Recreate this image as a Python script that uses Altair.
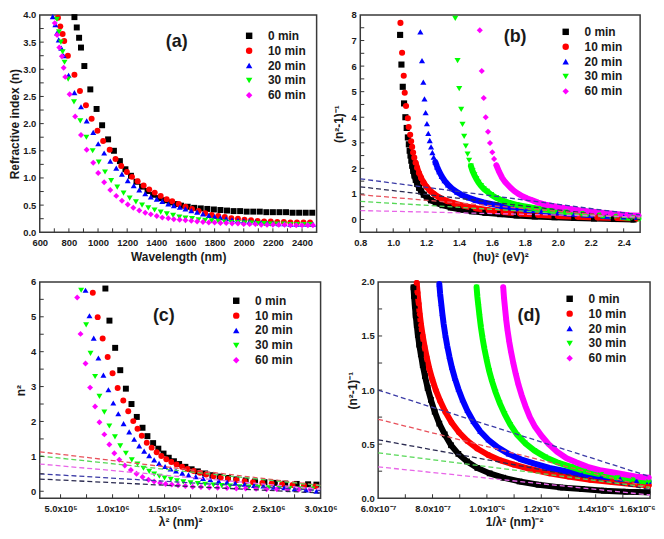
import altair as alt
import pandas as pd

SERIES = ["0 min", "10 min", "20 min", "30 min", "60 min"]
COLORS = ["#000000", "#ff0000", "#0000ff", "#00ff00", "#ff00ff"]
SHAPES = ["square", "circle", "triangle-up", "triangle-down", "diamond"]
FIT_NAMES = [s + " fit" for s in SERIES]
FIT_COLORS = ["#2a2a50", "#e8505a", "#3a3aa6", "#55d855", "#e865e8"]
PANEL_LABELS = ["(a)", "(b)", "(c)", "(d)"]

# ---------------- panel (a): n vs wavelength (nm) ----------------
A0_X = [838, 854, 870, 883, 906, 947, 990, 1028, 1069, 1109, 1150, 1188, 1226, 1264, 1302, 1340, 1378, 1416, 1454, 1492, 1530, 1570, 1615, 1660, 1705, 1750, 1795, 1840, 1885, 1930, 1975, 2020, 2065, 2110, 2155, 2200, 2245, 2290, 2335, 2380, 2425, 2470]
A0_Y = [3.96, 3.77, 3.58, 3.40, 3.06, 2.63, 2.27, 1.97, 1.71, 1.50, 1.31, 1.16, 1.04, 0.93, 0.84, 0.76, 0.69, 0.63, 0.59, 0.55, 0.52, 0.49, 0.47, 0.45, 0.44, 0.43, 0.42, 0.41, 0.40, 0.39, 0.39, 0.38, 0.38, 0.38, 0.37, 0.37, 0.37, 0.37, 0.36, 0.36, 0.36, 0.36]
A10_X = [725, 741, 757, 768, 793, 838, 876, 917, 956, 996, 1035, 1080, 1120, 1159, 1198, 1233, 1272, 1313, 1351, 1389, 1430, 1471, 1509, 1554, 1600, 1645, 1690, 1735, 1780, 1825, 1870, 1915, 1960, 2005, 2050, 2095, 2140, 2185, 2230, 2275, 2320, 2365, 2410, 2455]
A10_Y = [3.95, 3.79, 3.65, 3.52, 3.25, 2.90, 2.60, 2.34, 2.09, 1.87, 1.68, 1.52, 1.35, 1.22, 1.11, 1.02, 0.94, 0.86, 0.79, 0.73, 0.67, 0.61, 0.57, 0.52, 0.47, 0.43, 0.39, 0.35, 0.32, 0.30, 0.28, 0.26, 0.25, 0.23, 0.22, 0.21, 0.20, 0.20, 0.19, 0.19, 0.18, 0.18, 0.18, 0.18]
A20_X = [689, 707, 719, 730, 748, 764, 798, 838, 883, 922, 967, 1001, 1042, 1084, 1125, 1164, 1204, 1245, 1283, 1324, 1362, 1403, 1441, 1482, 1520, 1561, 1600, 1640, 1680, 1720, 1760, 1800, 1840, 1880, 1920, 1960, 2000, 2040, 2080, 2120, 2160, 2200, 2240, 2280, 2320, 2360, 2400, 2440, 2475]
A20_Y = [3.97, 3.82, 3.67, 3.54, 3.39, 3.25, 2.89, 2.57, 2.31, 2.05, 1.84, 1.63, 1.46, 1.31, 1.18, 1.07, 0.95, 0.86, 0.78, 0.71, 0.65, 0.61, 0.57, 0.52, 0.49, 0.46, 0.43, 0.40, 0.37, 0.34, 0.31, 0.29, 0.27, 0.25, 0.23, 0.22, 0.21, 0.20, 0.19, 0.18, 0.17, 0.17, 0.16, 0.16, 0.15, 0.15, 0.15, 0.15, 0.15]
A30_X = [718, 732, 745, 757, 770, 795, 835, 878, 920, 963, 1005, 1048, 1090, 1132, 1175, 1217, 1260, 1302, 1345, 1388, 1430, 1472, 1515, 1558, 1600, 1645, 1690, 1735, 1780, 1825, 1870, 1915, 1960, 2005, 2050, 2095, 2140, 2185, 2230, 2275, 2320, 2365, 2410, 2455]
A30_Y = [3.92, 3.69, 3.50, 3.32, 3.13, 2.82, 2.40, 2.05, 1.75, 1.50, 1.29, 1.11, 0.95, 0.83, 0.72, 0.63, 0.56, 0.50, 0.45, 0.41, 0.37, 0.34, 0.31, 0.28, 0.26, 0.25, 0.23, 0.22, 0.21, 0.20, 0.19, 0.18, 0.18, 0.17, 0.17, 0.16, 0.16, 0.15, 0.15, 0.15, 0.14, 0.14, 0.14, 0.14]
A60_X = [703, 719, 734, 752, 764, 775, 805, 843, 883, 922, 967, 1001, 1042, 1084, 1125, 1164, 1204, 1242, 1283, 1324, 1362, 1403, 1441, 1482, 1520, 1560, 1600, 1640, 1680, 1720, 1760, 1800, 1840, 1880, 1920, 1960, 2000, 2040, 2080, 2120, 2160, 2200, 2240, 2280, 2320, 2360, 2400, 2440, 2475]
A60_Y = [3.85, 3.63, 3.40, 3.24, 3.03, 2.86, 2.54, 2.13, 1.79, 1.52, 1.28, 1.09, 0.92, 0.78, 0.67, 0.58, 0.51, 0.45, 0.40, 0.36, 0.33, 0.30, 0.27, 0.26, 0.24, 0.23, 0.22, 0.21, 0.20, 0.19, 0.18, 0.18, 0.17, 0.17, 0.16, 0.16, 0.15, 0.15, 0.15, 0.14, 0.14, 0.14, 0.14, 0.14, 0.13, 0.13, 0.13, 0.13, 0.13]

# ---------------- panel (b): (n^2-1)^-1 vs (hv)^2 ----------------
B0_X = [1.042, 1.050, 1.058, 1.066, 1.074, 1.082, 1.089, 1.095, 1.100, 1.105, 1.110, 1.116, 1.122, 1.129, 1.137, 1.146, 1.157, 1.170, 1.186, 1.205, 1.23, 1.26, 1.30, 1.35, 1.41, 1.48, 1.56, 1.65, 1.75, 1.86, 1.98, 2.10, 2.22, 2.34, 2.46]
B0_Y = [7.22, 6.06, 5.19, 4.54, 4.00, 3.58, 3.21, 2.94, 2.69, 2.50, 2.30, 2.10, 1.90, 1.72, 1.55, 1.39, 1.24, 1.10, 0.97, 0.86, 0.75, 0.65, 0.56, 0.47, 0.39, 0.32, 0.26, 0.21, 0.16, 0.12, 0.09, 0.06, 0.04, 0.02, 0.00]
B10_X = [1.044, 1.054, 1.064, 1.070, 1.078, 1.089, 1.094, 1.103, 1.109, 1.115, 1.121, 1.128, 1.136, 1.145, 1.156, 1.169, 1.184, 1.202, 1.225, 1.25, 1.28, 1.32, 1.37, 1.43, 1.50, 1.58, 1.67, 1.77, 1.88, 2.00, 2.12, 2.24, 2.36, 2.48]
B10_Y = [7.69, 6.52, 5.62, 4.96, 4.44, 3.96, 3.62, 3.31, 3.06, 2.84, 2.62, 2.42, 2.22, 2.02, 1.82, 1.63, 1.45, 1.28, 1.12, 0.99, 0.86, 0.74, 0.63, 0.53, 0.44, 0.36, 0.29, 0.23, 0.18, 0.14, 0.11, 0.08, 0.06, 0.04]
B20_X = [1.165, 1.175, 1.183, 1.190, 1.197, 1.205, 1.213, 1.222, 1.230, 1.238, 1.246, 1.256, 1.267, 1.280, 1.295, 1.312, 1.333, 1.358, 1.388, 1.42, 1.46, 1.50, 1.55, 1.60, 1.66, 1.73, 1.81, 1.90, 2.00, 2.10, 2.20, 2.30, 2.40, 2.48]
B20_Y = [7.34, 6.21, 5.37, 4.72, 4.18, 3.75, 3.37, 3.09, 2.84, 2.62, 2.44, 2.25, 2.06, 1.87, 1.69, 1.52, 1.36, 1.21, 1.07, 0.95, 0.85, 0.76, 0.67, 0.60, 0.52, 0.45, 0.38, 0.32, 0.26, 0.21, 0.17, 0.13, 0.10, 0.08]
B30_X = [1.377, 1.391, 1.401, 1.413, 1.421, 1.431, 1.441, 1.452, 1.461, 1.472, 1.482, 1.493, 1.505, 1.518, 1.533, 1.550, 1.570, 1.595, 1.625, 1.660, 1.700, 1.750, 1.810, 1.880, 1.960, 2.050, 2.150, 2.250, 2.350, 2.450, 2.490]
B30_Y = [7.87, 6.21, 5.12, 4.31, 3.72, 3.25, 2.87, 2.56, 2.31, 2.09, 1.90, 1.74, 1.59, 1.45, 1.32, 1.20, 1.10, 0.97, 0.85, 0.75, 0.66, 0.57, 0.50, 0.42, 0.35, 0.29, 0.23, 0.17, 0.12, 0.06, 0.04]
B60_X = [1.526, 1.538, 1.550, 1.562, 1.576, 1.588, 1.602, 1.613, 1.627, 1.643, 1.663, 1.678, 1.694, 1.713, 1.734, 1.758, 1.785, 1.815, 1.845, 1.880, 1.925, 1.975, 2.027, 2.077, 2.127, 2.178, 2.228, 2.280, 2.329, 2.380, 2.430, 2.490]
B60_Y = [7.40, 5.81, 4.75, 4.00, 3.43, 2.99, 2.63, 2.37, 2.12, 1.87, 1.62, 1.48, 1.37, 1.24, 1.12, 1.01, 0.91, 0.82, 0.75, 0.66, 0.58, 0.52, 0.46, 0.41, 0.36, 0.32, 0.29, 0.26, 0.23, 0.20, 0.17, 0.15]
FITB_X = [0.8, 2.5]
FITB_START = [1.28, 0.97, 1.59, 0.71, 0.35]
FITB_END = [0.00, 0.05, 0.18, 0.05, 0.10]

# ---------------- panel (c): n^2 vs lambda^2 (x in 10^6 nm^2) ----------------
C0_X = [0.931, 0.970, 1.025, 1.074, 1.128, 1.182, 1.233, 1.288, 1.335, 1.390, 1.440, 1.490, 1.540, 1.590, 1.640, 1.700, 1.760, 1.820, 1.890, 1.960, 2.030, 2.110, 2.190, 2.280, 2.370, 2.460, 2.560, 2.660, 2.770, 2.880, 2.960]
C0_Y = [5.81, 4.89, 4.11, 3.47, 2.94, 2.50, 2.13, 1.82, 1.58, 1.38, 1.22, 1.08, 0.96, 0.86, 0.78, 0.70, 0.63, 0.57, 0.51, 0.46, 0.42, 0.38, 0.34, 0.31, 0.28, 0.26, 0.24, 0.22, 0.21, 0.20, 0.19]
C10_X = [0.810, 0.857, 0.905, 0.953, 1.000, 1.049, 1.103, 1.151, 1.199, 1.240, 1.281, 1.329, 1.376, 1.424, 1.469, 1.517, 1.565, 1.615, 1.668, 1.720, 1.780, 1.840, 1.900, 1.970, 2.040, 2.110, 2.190, 2.270, 2.350, 2.440, 2.530, 2.630, 2.730, 2.840, 2.950]
C10_Y = [5.69, 4.99, 4.38, 3.85, 3.38, 2.96, 2.60, 2.29, 2.01, 1.79, 1.59, 1.39, 1.25, 1.12, 1.01, 0.92, 0.84, 0.77, 0.70, 0.64, 0.58, 0.53, 0.48, 0.43, 0.39, 0.35, 0.32, 0.29, 0.26, 0.24, 0.22, 0.20, 0.18, 0.16, 0.14]
C20_X = [0.740, 0.778, 0.819, 0.864, 0.912, 0.960, 1.007, 1.055, 1.106, 1.160, 1.208, 1.256, 1.304, 1.352, 1.400, 1.447, 1.505, 1.558, 1.610, 1.670, 1.730, 1.800, 1.870, 1.940, 2.020, 2.100, 2.180, 2.270, 2.360, 2.450, 2.550, 2.650, 2.750, 2.860, 2.960]
C20_Y = [5.76, 5.03, 4.39, 3.82, 3.33, 2.91, 2.53, 2.22, 1.94, 1.70, 1.49, 1.30, 1.15, 1.02, 0.90, 0.80, 0.71, 0.64, 0.58, 0.52, 0.47, 0.42, 0.37, 0.33, 0.29, 0.26, 0.23, 0.20, 0.17, 0.15, 0.12, 0.10, 0.07, 0.04, 0.00]
C30_X = [0.698, 0.746, 0.788, 0.832, 0.874, 0.921, 0.969, 1.023, 1.074, 1.128, 1.185, 1.240, 1.297, 1.352, 1.400, 1.450, 1.500, 1.560, 1.620, 1.680, 1.750, 1.820, 1.890, 1.970, 2.050, 2.130, 2.220, 2.310, 2.400, 2.500, 2.600, 2.700, 2.810, 2.920]
C30_Y = [5.76, 4.77, 3.95, 3.29, 2.72, 2.27, 1.87, 1.56, 1.30, 1.09, 0.90, 0.78, 0.66, 0.57, 0.49, 0.43, 0.38, 0.34, 0.30, 0.27, 0.24, 0.22, 0.20, 0.18, 0.16, 0.15, 0.13, 0.12, 0.11, 0.10, 0.09, 0.08, 0.07, 0.06]
C60_X = [0.660, 0.692, 0.740, 0.784, 0.832, 0.874, 0.921, 0.969, 1.017, 1.065, 1.118, 1.176, 1.230, 1.288, 1.345, 1.400, 1.457, 1.510, 1.570, 1.630, 1.700, 1.770, 1.850, 1.930, 2.010, 2.100, 2.190, 2.280, 2.380, 2.480, 2.580, 2.680, 2.790, 2.900]
C60_Y = [5.55, 4.51, 3.66, 2.97, 2.43, 1.98, 1.63, 1.34, 1.09, 0.90, 0.74, 0.61, 0.50, 0.41, 0.33, 0.28, 0.24, 0.21, 0.19, 0.17, 0.15, 0.13, 0.12, 0.11, 0.10, 0.09, 0.08, 0.08, 0.07, 0.06, 0.06, 0.05, 0.05, 0.05]
FITC_X = [0.3, 3.0]
FITC_START = [0.35, 1.13, 0.50, 1.01, 0.78]
FITC_END = [-0.05, 0.17, 0.02, 0.16, 0.06]

# ---------------- panel (d): (n^2-1)^-1 vs 1/lambda^2 (x in 10^-7 nm^-2) ----------------
D0_X = [7.30, 7.32, 7.35, 7.38, 7.42, 7.46, 7.51, 7.57, 7.64, 7.72, 7.82, 7.94, 8.08, 8.25, 8.45, 8.68, 8.95, 9.27, 9.65, 10.1, 10.6, 11.2, 11.9, 12.7, 13.5, 14.3, 15.1, 15.9]
D0_Y = [1.95, 1.87, 1.78, 1.69, 1.60, 1.51, 1.42, 1.33, 1.23, 1.13, 1.02, 0.91, 0.80, 0.69, 0.59, 0.49, 0.41, 0.34, 0.28, 0.23, 0.19, 0.155, 0.125, 0.10, 0.085, 0.07, 0.06, 0.055]
D10_X = [7.42, 7.45, 7.49, 7.53, 7.58, 7.64, 7.71, 7.79, 7.88, 7.99, 8.12, 8.28, 8.47, 8.70, 8.97, 9.28, 9.64, 10.05, 10.5, 11.0, 11.6, 12.3, 13.0, 13.8, 14.6, 15.4, 15.95]
D10_Y = [1.99, 1.90, 1.80, 1.70, 1.60, 1.50, 1.40, 1.30, 1.20, 1.10, 1.00, 0.90, 0.80, 0.70, 0.61, 0.53, 0.46, 0.40, 0.35, 0.31, 0.27, 0.23, 0.20, 0.17, 0.15, 0.13, 0.12]
D20_X = [8.25, 8.28, 8.32, 8.36, 8.41, 8.47, 8.54, 8.62, 8.71, 8.82, 8.95, 9.10, 9.28, 9.50, 9.75, 10.05, 10.4, 10.8, 11.25, 11.75, 12.3, 12.9, 13.5, 14.2, 14.9, 15.5, 15.95]
D20_Y = [1.98, 1.89, 1.80, 1.71, 1.61, 1.51, 1.41, 1.31, 1.21, 1.11, 1.01, 0.91, 0.81, 0.71, 0.62, 0.54, 0.47, 0.41, 0.36, 0.32, 0.28, 0.25, 0.22, 0.20, 0.18, 0.165, 0.155]
D30_X = [9.62, 9.65, 9.69, 9.73, 9.78, 9.84, 9.91, 9.99, 10.08, 10.19, 10.32, 10.47, 10.65, 10.86, 11.1, 11.4, 11.75, 12.15, 12.6, 13.1, 13.6, 14.2, 14.8, 15.4, 15.95]
D30_Y = [1.95, 1.86, 1.77, 1.68, 1.58, 1.48, 1.38, 1.28, 1.18, 1.08, 0.98, 0.88, 0.78, 0.68, 0.59, 0.51, 0.44, 0.38, 0.33, 0.29, 0.25, 0.22, 0.19, 0.17, 0.15]
D60_X = [10.60, 10.63, 10.67, 10.71, 10.76, 10.82, 10.89, 10.97, 11.06, 11.16, 11.28, 11.42, 11.58, 11.77, 12.0, 12.27, 12.58, 12.93, 13.3, 13.7, 14.15, 14.6, 15.05, 15.5, 15.95]
D60_Y = [1.95, 1.85, 1.75, 1.65, 1.55, 1.45, 1.35, 1.25, 1.15, 1.05, 0.95, 0.85, 0.75, 0.66, 0.58, 0.50, 0.43, 0.37, 0.33, 0.29, 0.26, 0.24, 0.22, 0.20, 0.19]
FITD_X = [6.0, 16.0]
FITD_START = [0.54, 0.73, 1.00, 0.42, 0.29]
FITD_END = [0.08, 0.10, 0.20, 0.10, 0.03]

FONT = "Liberation Sans"
TXT = "#1a1a1a"
LBL = 9.5

COLOR_SCALE = alt.Scale(domain=SERIES, range=COLORS)
SHAPE_SCALE = alt.Scale(domain=SERIES, range=SHAPES)
STROKE_SCALE = alt.Scale(domain=SERIES + FIT_NAMES, range=COLORS + FIT_COLORS)


def series_df(xs_lists, ys_lists):
    rows = []
    for name, xs, ys in zip(SERIES, xs_lists, ys_lists):
        rows += [{"series": name, "x": x, "y": y} for x, y in zip(xs, ys)]
    return pd.DataFrame(rows)


def fit_df(xr, starts, ends):
    rows = []
    for name, a, b in zip(FIT_NAMES, starts, ends):
        rows += [{"fit": name, "x": xr[0], "y": a}, {"fit": name, "x": xr[1], "y": b}]
    return pd.DataFrame(rows)


def axis(values, title, fmt=None, expr=None, extent=None, label_pad=4, title_pad=3, last_shift=None):
    kw = dict(values=values, title=title, domain=False, ticks=False, grid=False,
              labelFont=FONT, labelFontSize=LBL, labelFontWeight="bold", labelColor=TXT,
              labelPadding=label_pad, labelFlush=False, labelOverlap=False,
              titleFont=FONT, titleFontSize=12, titleFontWeight="bold", titleColor=TXT,
              titlePadding=title_pad)
    if fmt:
        kw["format"] = fmt
    if expr:
        kw["labelExpr"] = expr
    if extent is not None:
        kw["minExtent"] = extent
        kw["maxExtent"] = extent
    if last_shift is not None:
        kw["labelOffset"] = {"condition": {"test": "datum.value >= %s" % max(values), "value": last_shift}, "value": 0}
    return alt.Axis(**kw)


def panel(pts, fits, xdom, ydom, xax, yax, w, h, leg_xy, label, lab_xy,
          xticks, yticks, band=None, size=36):
    xs = alt.Scale(domain=xdom, nice=False, zero=False)
    ys = alt.Scale(domain=ydom, nice=False, zero=False)
    X = lambda: alt.X("x:Q", scale=xs, axis=xax)
    Y = lambda: alt.Y("y:Q", scale=ys, axis=yax)
    leg = alt.Legend(title=None, orient="none", legendX=leg_xy[0], legendY=leg_xy[1],
                     labelFont=FONT, labelFontSize=12, labelFontWeight="bold",
                     labelColor=TXT, symbolSize=42, rowPadding=3, labelOffset=13,
                     padding=0, symbolStrokeWidth=0)
    layers = []
    if band is not None:
        layers.append(
            alt.Chart(pts).transform_filter(band)
            .mark_line(strokeWidth=6, strokeCap="round", strokeJoin="round")
            .encode(x=X(), y=Y(),
                    stroke=alt.Stroke("series:N", scale=STROKE_SCALE, legend=None))
        )
    layers.append(
        alt.Chart(pts).mark_point(filled=True, opacity=1, size=size)
        .encode(x=X(), y=Y(),
                color=alt.Color("series:N", scale=COLOR_SCALE, legend=leg),
                shape=alt.Shape("series:N", scale=SHAPE_SCALE, legend=leg))
    )
    if fits is not None:
        layers.append(
            alt.Chart(fits).mark_line(strokeDash=[5, 3], strokeWidth=1.3, clip=True)
            .encode(x=X(), y=Y(),
                    stroke=alt.Stroke("fit:N", scale=STROKE_SCALE, legend=None))
        )
    layers.append(
        alt.Chart(pd.DataFrame({"x": xticks})).mark_rule(color="#333", strokeWidth=1)
        .encode(x=X(), y=alt.value(h), y2=alt.value(h - 4))
    )
    layers.append(
        alt.Chart(pd.DataFrame({"y": yticks})).mark_rule(color="#333", strokeWidth=1)
        .encode(y=Y(), x=alt.value(0), x2=alt.value(4))
    )
    layers.append(
        alt.Chart(pd.DataFrame({"t": [label]}))
        .mark_text(font=FONT, fontSize=18, fontWeight="bold", color=TXT)
        .encode(text="t:N", x=alt.value(lab_xy[0]), y=alt.value(lab_xy[1]))
    )
    return alt.layer(*layers).properties(width=w, height=h)


# ---- panel (a)
pa = panel(
    series_df([A0_X, A10_X, A20_X, A30_X, A60_X], [A0_Y, A10_Y, A20_Y, A30_Y, A60_Y]),
    None,
    [600, 2500], [0, 4.0],
    axis(list(range(600, 2401, 200)), "Wavelength (nm)", fmt="d", extent=15, label_pad=5, title_pad=4),
    axis([i * 0.5 for i in range(9)], "Refractive index (n)", fmt=".1f", extent=17, title_pad=1),
    279, 219, (205, 15), PANEL_LABELS[0], (138, 27),
    list(range(700, 2500, 100)), [i * 0.25 for i in range(1, 16)],
)

# ---- panel (b)
pb = panel(
    series_df([B0_X, B10_X, B20_X, B30_X, B60_X], [B0_Y, B10_Y, B20_Y, B30_Y, B60_Y]),
    fit_df(FITB_X, FITB_START, FITB_END),
    [0.8, 2.5], [-0.5, 8],
    axis([round(0.8 + 0.2 * i, 1) for i in range(9)], "(h\u03c5)\u00b2 (eV)\u00b2", fmt=".1f", extent=15, label_pad=5, title_pad=4),
    axis(list(range(0, 9)), "(n\u00b2-1)\u207b\u00b9", fmt="d", extent=12, title_pad=3),
    282, 219, (201, 11), PANEL_LABELS[1], (156, 22),
    [round(0.9 + 0.1 * i, 1) for i in range(16)], [i * 0.5 for i in range(0, 16)],
    band="datum.y < 2.3", size=38,
)

# ---- panel (c)
pc = panel(
    series_df([C0_X, C10_X, C20_X, C30_X, C60_X], [C0_Y, C10_Y, C20_Y, C30_Y, C60_Y]),
    fit_df(FITC_X, FITC_START, FITC_END),
    [0.3, 3.0], [-0.2, 6],
    axis([0.5, 1.0, 1.5, 2.0, 2.5, 3.0], "\u03bb\u00b2 (nm)\u00b2",
         expr="datum.value < 1 ? format(datum.value * 10, '.1f') + 'x10\u2075' : format(datum.value, '.1f') + 'x10\u2076'",
         extent=15, label_pad=5, title_pad=3),
    axis(list(range(0, 7)), "n\u00b2", fmt="d", extent=11, title_pad=1),
    283, 218, (192, 13), PANEL_LABELS[2], (125, 34),
    [0.5 + 0.25 * i for i in range(10)], [i * 0.5 for i in range(0, 12)],
)

# ---- panel (d)
pd_ = panel(
    series_df([D0_X, D10_X, D20_X, D30_X, D60_X], [D0_Y, D10_Y, D20_Y, D30_Y, D60_Y]),
    fit_df(FITD_X, FITD_START, FITD_END),
    [6, 16], [0, 2.0],
    axis([6, 8, 10, 12, 14, 16], "1/\u03bb\u00b2 (nm)\u207b\u00b2",
         expr="datum.value < 10 ? format(datum.value, '.1f') + 'x10\u207b\u2077' : format(datum.value / 10, '.1f') + 'x10\u207b\u2076'",
         extent=15, label_pad=5, title_pad=3, last_shift=-13),
    axis([0, 0.5, 1.0, 1.5, 2.0], "(n\u00b2-1)\u207b\u00b9", fmt=".1f", extent=17, title_pad=2),
    274, 218, (187, 11), PANEL_LABELS[3], (152, 34),
    list(range(7, 16)), [i * 0.25 for i in range(1, 8)],
    band="datum.y < 2.1", size=34,
)

RES = dict(color="independent", shape="independent", stroke="independent")
row1 = alt.hconcat(pa, pb, spacing=14).resolve_scale(**RES)
row2 = alt.hconcat(pc, pd_, spacing=7).resolve_scale(**RES)
chart = (
    alt.vconcat(row1, row2, spacing=13)
    .resolve_scale(**RES)
    .properties(padding={"top": -1, "left": 0, "right": 0, "bottom": 0}, background="white")
    .configure_view(stroke="#3a3a3a", strokeWidth=1.5)
)

chart.save("out.html", embed_options={"renderer": "svg", "actions": False})
